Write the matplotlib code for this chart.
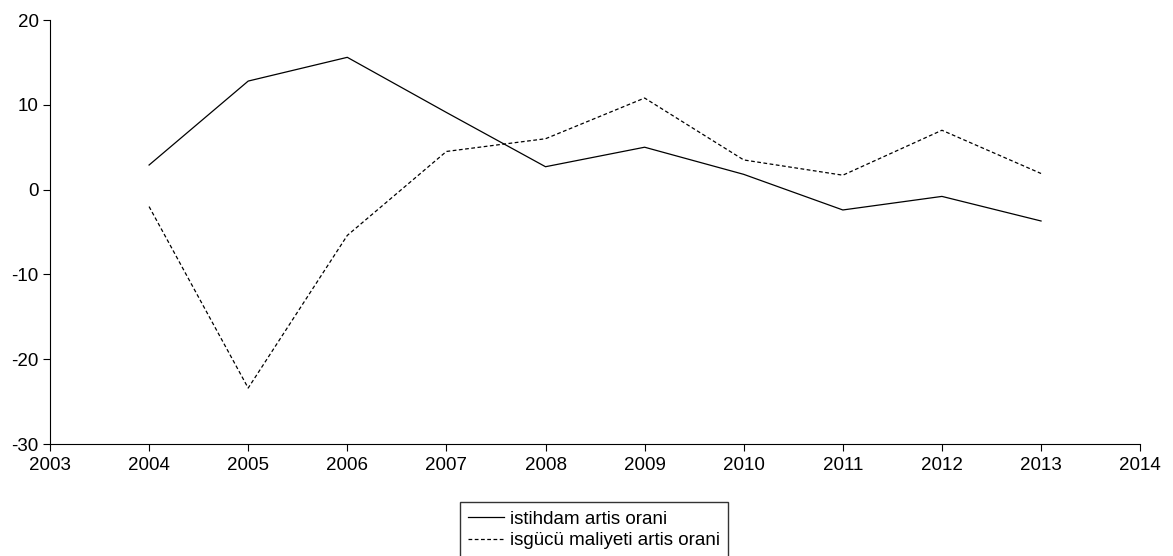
import matplotlib
matplotlib.use("Agg")
import matplotlib.pyplot as plt

plt.rcParams['font.family'] = ['Liberation Sans', 'DejaVu Sans']
plt.rcParams['axes.unicode_minus'] = False

# ===== data =====
years = [2004, 2005, 2006, 2007, 2008, 2009, 2010, 2011, 2012, 2013]
istihdam = [2.9, 12.8, 15.6, 9.1, 2.7, 5.0, 1.8, -2.4, -0.8, -3.7]
isgucu = [-2.0, -23.4, -5.4, 4.5, 6.0, 10.8, 3.5, 1.7, 7.0, 1.9]
xticks = list(range(2003, 2015))
yticks = [-30, -20, -10, 0, 10, 20]

fig = plt.figure(figsize=(11.73, 5.56), dpi=100)
ax = fig.add_axes([0.0426, 0.2014, 0.9294, 0.7626])

l1, = ax.plot(years, istihdam, color="black", linewidth=0.9, label="istihdam artis orani")
l2, = ax.plot(years, isgucu, color="black", linewidth=0.9, linestyle=(0, (3, 2)),
              label="isgücü maliyeti artis orani")

ax.set_xlim(2003, 2014)
ax.set_ylim(-30, 20)
ax.set_xticks(xticks)
ax.set_yticks(yticks)
ax.tick_params(direction="out", length=5, width=0.8, labelsize=13.5)
ax.tick_params(axis="x", pad=4)
ax.tick_params(axis="y", pad=3)
ax.spines["top"].set_visible(False)
ax.spines["right"].set_visible(False)

# legend half outside the bottom, like the original
fig.legend(handles=[l1, l2], loc="upper left", bbox_to_anchor=(460 / 1173, 1 - 502 / 556),
           fontsize=13.5, frameon=True, fancybox=False, edgecolor="black",
           handlelength=1.9, handletextpad=0.3, borderpad=0.45, labelspacing=0.25,
           borderaxespad=0)

fig.savefig("out.png", dpi=100)
